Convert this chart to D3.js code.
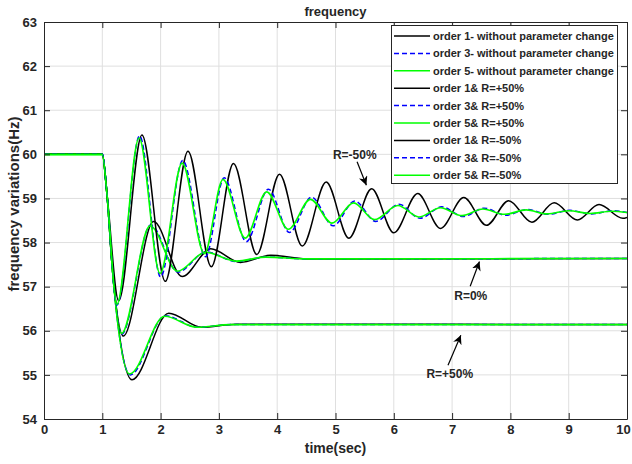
<!DOCTYPE html>
<html><head><meta charset="utf-8">
<script src="https://cdn.jsdelivr.net/npm/d3@7"></script>
<style>
html,body{margin:0;padding:0;background:#fff;}
svg text{font-family:"Liberation Sans",Arial,sans-serif;font-weight:bold;fill:#262626;}
</style></head>
<body><svg id="chart" width="632" height="464"></svg>
<script>
// ---- data (time in s, frequency in Hz) ----
const xTicks = [0,1,2,3,4,5,6,7,8,9,10];
const yTicks = [54,55,56,57,58,59,60,61,62,63];

// R = 0% (without parameter change)
const order1_R0 = [[0,60],[1,60],[1.08,59.1],[1.17,57.45],[1.36,55.88],[1.88,58.48],[2.37,57.23],[2.86,57.86],[3.37,57.55],[3.89,57.71],[4.5,57.63],[10,57.64]];
const order3_R0 = [[0,60],[1,60],[1.08,59.1],[1.17,57.45],[1.33,55.92],[1.83,58.4],[2.3,57.33],[2.78,57.79],[3.3,57.57],[3.8,57.67],[4.5,57.63],[10,57.64]];
const order5_R0 = [[0,60],[1,60],[1.08,59.1],[1.17,57.45],[1.33,55.94],[1.82,58.38],[2.29,57.35],[2.77,57.78],[3.3,57.58],[3.8,57.67],[4.5,57.63],[10,57.64]];

// R = +50%
const order1_Rp50 = [[0,60],[1,60],[1.08,59.1],[1.17,57.45],[1.51,54.89],[2.14,56.4],[2.7,56.08],[3.3,56.15],[10,56.14]];
const order3_Rp50 = [[0,60],[1,60],[1.08,59.1],[1.17,57.45],[1.48,55.0],[2.08,56.34],[2.63,56.08],[3.2,56.14],[10,56.14]];
const order5_Rp50 = [[0,60],[1,60],[1.08,59.1],[1.17,57.45],[1.47,55.02],[2.07,56.33],[2.62,56.08],[3.2,56.14],[10,56.14]];

// R = -50%
const order1_Rm50 = [[0,60],[1,60],[1.08,59.1],[1.28,56.68],[1.68,60.44],[2.08,57.12],[2.47,60.07],[2.87,57.45],[3.25,59.79],[3.65,57.73],[4.04,59.55],[4.43,57.92],[4.84,59.37],[5.23,58.1],[5.62,59.22],[6.0,58.22],[6.41,59.11],[6.8,58.32],[7.2,59.02],[7.59,58.39],[7.97,58.95],[8.37,58.46],[8.75,58.9],[9.15,58.51],[9.52,58.86],[9.93,58.55],[10,58.57]];
const order3_Rm50 = [[0,60],[1,60],[1.08,59.1],[1.25,56.58],[1.64,60.42],[2.0,57.22],[2.38,59.86],[2.77,57.68],[3.09,59.47],[3.47,58.02],[3.85,59.21],[4.21,58.23],[4.59,59.03],[4.96,58.38],[5.33,58.94],[5.69,58.48],[6.09,58.87],[6.45,58.55],[6.82,58.81],[7.19,58.59],[7.55,58.78],[7.92,58.62],[8.29,58.75],[8.65,58.64],[9.02,58.73],[9.39,58.65],[9.76,58.72],[10,58.68]];
const order5_Rm50 = [[0,60],[1,60],[1.08,59.1],[1.25,56.6],[1.63,60.37],[1.99,57.3],[2.37,59.8],[2.75,57.75],[3.07,59.43],[3.45,58.1],[3.82,59.15],[4.19,58.3],[4.57,58.98],[4.94,58.44],[5.31,58.9],[5.67,58.52],[6.07,58.84],[6.43,58.58],[6.8,58.79],[7.17,58.61],[7.53,58.76],[7.9,58.64],[8.27,58.74],[8.63,58.65],[9.0,58.72],[9.37,58.66],[9.74,58.71],[10,58.68]];

const seriesNames = ["order 1- without parameter change","order 3- without parameter change","order 5- without parameter change",
  "order 1& R=+50%","order 3& R=+50%","order 5& R=+50%","order 1& R=-50%","order 3& R=-50%","order 5& R=-50%"];
const seriesData = [order1_R0,order3_R0,order5_R0,order1_Rp50,order3_Rp50,order5_Rp50,order1_Rm50,order3_Rm50,order5_Rm50];
const seriesOrder = [1,3,5,1,3,5,1,3,5];

// annotations: label, text position, arrow tail, arrow tip (data coords)
const annLabels = ["R=-50%","R=0%","R=+50%"];
const annText = [[5.33,59.9],[7.32,56.69],[6.96,54.93]];
const annTail = [[5.37,59.83],[7.31,57.01],[6.93,55.22]];
const annTip  = [[5.53,59.3],[7.47,57.57],[7.15,55.9]];

// ---- drawing ----
const svg = d3.select("#chart");
const L=44, R=627, T=22, B=419;
const x = d3.scaleLinear().domain([0,10]).range([L,R]);
const y = d3.scaleLinear().domain([54,63]).range([B,T]);

const styleFor = o => o===1 ? {c:"#000000",d:null,w:1.5} : o===3 ? {c:"#0000ff",d:"5,3",w:1.5} : {c:"#00ff00",d:null,w:1.6};

// grid
svg.append("g").selectAll("line").data(xTicks.slice(1,-1)).join("line")
  .attr("x1",d=>x(d)).attr("x2",d=>x(d)).attr("y1",T).attr("y2",B)
  .attr("stroke","#dfdfdf").attr("stroke-width",1);
svg.append("g").selectAll("line").data(yTicks.slice(1,-1)).join("line")
  .attr("y1",d=>y(d)).attr("y2",d=>y(d)).attr("x1",L).attr("x2",R)
  .attr("stroke","#dfdfdf").attr("stroke-width",1);

// curves
svg.append("clipPath").attr("id","clp").append("rect").attr("x",L).attr("y",T).attr("width",R-L).attr("height",B-T);
const line = d3.line().x(d=>x(d[0])).y(d=>y(d[1])).curve(d3.curveMonotoneX);
const gc = svg.append("g").attr("clip-path","url(#clp)");
seriesData.forEach((s,i)=>{
  const st = styleFor(seriesOrder[i]);
  gc.append("path").attr("d",line(s)).attr("fill","none").attr("stroke",st.c)
    .attr("stroke-width",st.w).attr("stroke-dasharray",st.d);
});

// axes (MATLAB-style box with inward ticks)
const axB = d3.axisBottom(x).tickValues(xTicks).tickSizeInner(-6).tickSizeOuter(0).tickPadding(6);
const axT = d3.axisTop(x).tickValues(xTicks).tickSizeInner(-6).tickSizeOuter(0).tickFormat("");
const axL = d3.axisLeft(y).tickValues(yTicks).tickSizeInner(-6).tickSizeOuter(0).tickPadding(7);
const axR = d3.axisRight(y).tickValues(yTicks).tickSizeInner(-6).tickSizeOuter(0).tickFormat("");
function styleAx(g){ g.selectAll("path,line").attr("stroke","#262626"); g.selectAll("text").style("font-size","13px").attr("fill","#262626"); }
const gB = svg.append("g").attr("transform",`translate(0,${B})`).call(axB).call(styleAx);
gB.selectAll(".tick text").filter(d=>d===10).attr("dx",-4);
svg.append("g").attr("transform",`translate(0,${T})`).call(axT).call(styleAx);
svg.append("g").attr("transform",`translate(${L},0)`).call(axL).call(styleAx);
svg.append("g").attr("transform",`translate(${R},0)`).call(axR).call(styleAx);

// titles
svg.append("text").attr("x",(L+R)/2).attr("y",16).attr("text-anchor","middle").style("font-size","13px").text("frequency");
svg.append("text").attr("x",(L+R)/2).attr("y",453).attr("text-anchor","middle").style("font-size","14px").text("time(sec)");
svg.append("text").attr("transform",`translate(19,${204}) rotate(-90)`).attr("text-anchor","middle").style("font-size","15px").text("frequency variations(Hz)");

// annotations
const defs = svg.append("defs");
defs.append("marker").attr("id","ah").attr("viewBox","0 0 10 10").attr("refX",10).attr("refY",5)
  .attr("markerWidth",9).attr("markerHeight",9).attr("markerUnits","userSpaceOnUse").attr("orient","auto")
  .append("path").attr("d","M0,0 L10,5 L0,10 L3,5 Z").attr("fill","#000");
annLabels.forEach((t,i)=>{
  svg.append("text").attr("x",x(annText[i][0])).attr("y",y(annText[i][1])).attr("text-anchor","middle").style("font-size","12px").attr("fill","#000").text(t);
  svg.append("line").attr("x1",x(annTail[i][0])).attr("y1",y(annTail[i][1])).attr("x2",x(annTip[i][0])).attr("y2",y(annTip[i][1]))
    .attr("stroke","#000").attr("stroke-width",1.2).attr("marker-end","url(#ah)");
});

// legend
const lg = svg.append("g");
const lgX=391, lgY=25, lgW=226, lgH=158, rowH=17.4;
lg.append("rect").attr("x",lgX+0.5).attr("y",lgY+0.5).attr("width",lgW).attr("height",lgH).attr("fill","#fff").attr("stroke","#262626").attr("stroke-width",1);
seriesNames.forEach((n,i)=>{
  const st = styleFor(seriesOrder[i]);
  const yy = lgY + 11 + i*rowH;
  lg.append("line").attr("x1",lgX+3).attr("x2",lgX+39).attr("y1",yy).attr("y2",yy).attr("stroke",st.c).attr("stroke-width",st.w).attr("stroke-dasharray",st.d);
  lg.append("text").attr("x",lgX+42).attr("y",yy+4).style("font-size","11px").attr("fill","#000").text(n);
});
</script></body></html>
